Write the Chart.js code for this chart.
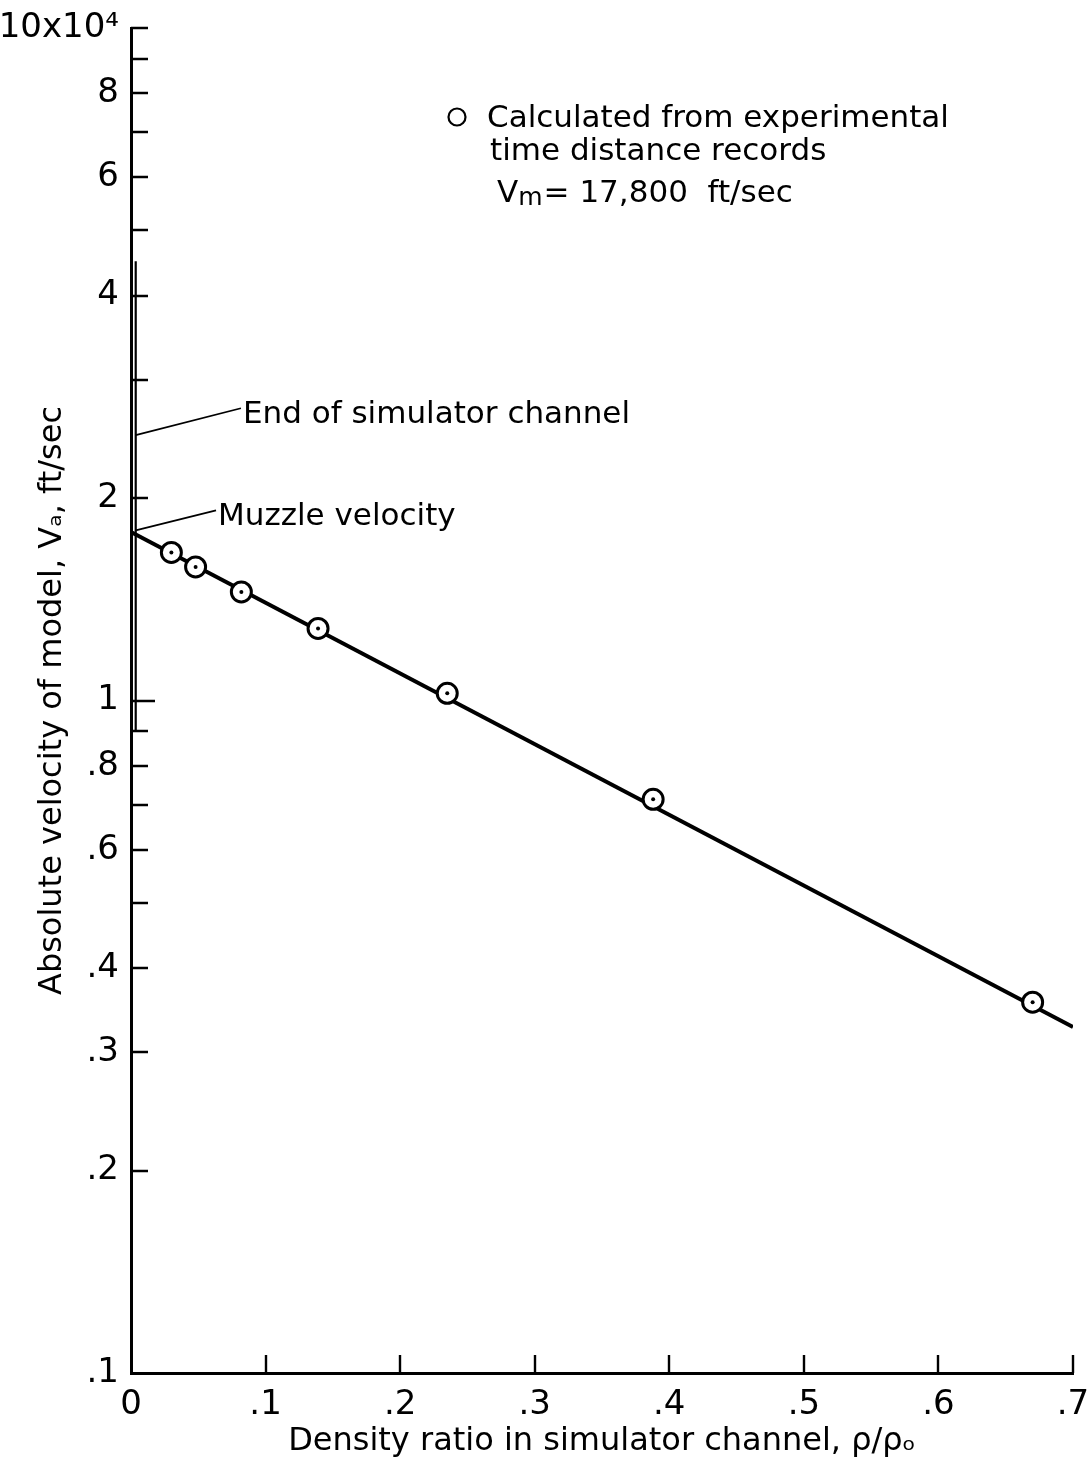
<!DOCTYPE html>
<html>
<head>
<meta charset="utf-8">
<script src="https://cdn.jsdelivr.net/npm/chart.js@4/dist/chart.umd.min.js"></script>
<style>
  html, body { margin: 0; padding: 0; background: #fff; }
  canvas { display: block; }
</style>
</head>
<body>
<canvas id="chart" width="1088" height="1467"></canvas>
<script>
// velocities are in units of 10^4 ft/sec
const rhoRatio = [0.030, 0.048, 0.082, 0.139, 0.235, 0.388, 0.670];
const velocity = [1.66, 1.58, 1.45, 1.28, 1.025, 0.713, 0.356];

// faired line, starting at the muzzle velocity Vm = 17,800 ft/sec
const fairedRatio = [0, 0.70];
const fairedVelocity = [1.78, 0.327];

// marker line at the end of the simulator channel
const channelRatio = [0.0035, 0.0035];
const channelVelocity = [4.5, 0.9];

const xTicks = [0, 0.1, 0.2, 0.3, 0.4, 0.5, 0.6, 0.7];
const xTickLabels = ['0', '.1', '.2', '.3', '.4', '.5', '.6', '.7'];
const yTicks = [0.1, 0.2, 0.3, 0.4, 0.5, 0.6, 0.7, 0.8, 0.9, 1, 2, 3, 4, 5, 6, 7, 8, 9, 10];
const yTickLabels = ['.1', '.2', '.3', '.4', '', '.6', '', '.8', '', '1', '2', '', '4', '', '6', '', '8', '', '10x10\u2074'];

const toPoints = (xs, ys) => xs.map((v, i) => ({ x: v, y: ys[i] }));

const FONT = 'DejaVu Sans';
Chart.defaults.font.family = FONT;
Chart.defaults.color = '#000';

// leader lines: from the marker to the label, in data units
const notes = [
  { text: 'End of simulator channel', from: [0.0035, 2.48], to: [0.0817, 2.72] },
  { text: 'Muzzle velocity', from: [0.0035, 1.79], to: [0.0632, 1.918] }
];

// tick marks drawn inside the plot, like the printed graph paper
const inwardTicks = {
  id: 'inwardTicks',
  beforeDatasetsDraw(chart) {
    const { ctx, chartArea, scales: { x, y } } = chart;
    ctx.save();
    ctx.strokeStyle = '#000';
    ctx.lineWidth = 2.4;
    ctx.beginPath();
    y.ticks.forEach((t) => {
      if (t.value === 0.1) return;
      const py = Math.round(y.getPixelForValue(t.value));
      const len = t.value === 1 ? 24 : 17;
      ctx.moveTo(chartArea.left, py);
      ctx.lineTo(chartArea.left + len, py);
    });
    x.ticks.forEach((t) => {
      if (t.value === 0) return;
      const px = Math.round(x.getPixelForValue(t.value));
      ctx.moveTo(px, chartArea.bottom);
      ctx.lineTo(px, chartArea.bottom - 18);
    });
    ctx.stroke();
    ctx.restore();
  }
};

const annotations = {
  id: 'annotations',
  afterDatasetsDraw(chart) {
    const { ctx, chartArea, scales: { x, y } } = chart;
    ctx.save();
    ctx.strokeStyle = '#000';
    ctx.fillStyle = '#000';
    ctx.lineWidth = 1.8;
    ctx.font = `31px "${FONT}"`;
    ctx.textBaseline = 'alphabetic';

    notes.forEach((n) => {
      const x0 = x.getPixelForValue(n.from[0]);
      const y0 = y.getPixelForValue(n.from[1]);
      const x1 = x.getPixelForValue(n.to[0]);
      const y1 = y.getPixelForValue(n.to[1]);
      ctx.beginPath();
      ctx.moveTo(x0, y0);
      ctx.lineTo(x1, y1);
      ctx.stroke();
      ctx.fillText(n.text, x1 + 2, y1 + 15);
    });

    // key
    const kx = chartArea.left + 326;
    const ky = chartArea.top + 89;
    ctx.lineWidth = 2.2;
    ctx.beginPath();
    ctx.arc(kx, ky, 8.5, 0, Math.PI * 2);
    ctx.stroke();
    ctx.fillText('Calculated from experimental', kx + 30, ky + 10);
    ctx.fillText('time distance records', kx + 33, ky + 43);
    const vx = kx + 40;
    const vy = ky + 85;
    ctx.fillText('V', vx, vy);
    let w = ctx.measureText('V').width;
    ctx.font = `25px "${FONT}"`;
    ctx.fillText('m', vx + w, vy + 3);
    w += ctx.measureText('m').width;
    ctx.font = `31px "${FONT}"`;
    ctx.fillText('= 17,800  ft/sec', vx + w + 1, vy);
    ctx.restore();
  }
};

new Chart(document.getElementById('chart'), {
  type: 'scatter',
  data: {
    datasets: [
      {
        data: toPoints(rhoRatio, velocity),
        pointRadius: 2,
        pointBackgroundColor: '#000',
        pointBorderWidth: 0,
        order: 0
      },
      {
        data: toPoints(rhoRatio, velocity),
        pointRadius: 10,
        pointBackgroundColor: '#fff',
        pointBorderColor: '#000',
        pointBorderWidth: 3,
        order: 1
      },
      {
        data: toPoints(fairedRatio, fairedVelocity),
        showLine: true,
        borderColor: '#000',
        borderWidth: 4,
        pointRadius: 0,
        order: 2
      },
      {
        data: toPoints(channelRatio, channelVelocity),
        showLine: true,
        borderColor: '#000',
        borderWidth: 2.2,
        pointRadius: 0,
        order: 3
      }
    ]
  },
  options: {
    responsive: false,
    animation: false,
    devicePixelRatio: 1,
    layout: { padding: { top: 28, right: 15, left: 0, bottom: 0 } },
    plugins: {
      legend: { display: false },
      tooltip: { enabled: false }
    },
    scales: {
      x: {
        type: 'linear',
        min: 0,
        max: 0.7,
        grid: { display: false },
        border: { display: true, color: '#000', width: 3 },
        afterBuildTicks: (scale) => { scale.ticks = xTicks.map((v) => ({ value: v })); },
        afterFit: (scale) => {
          scale.height = 94;
          scale.paddingLeft = 0;
          scale.paddingRight = 0;
        },
        ticks: {
          autoSkip: false,
          maxRotation: 0,
          padding: 4,
          font: { size: 34 },
          callback: (v, i) => xTickLabels[i]
        },
        title: {
          display: true,
          text: 'Density ratio in simulator channel, \u03c1/\u03c1\u2092',
          font: { size: 32 },
          padding: { top: 0, bottom: 6 }
        }
      },
      y: {
        type: 'logarithmic',
        min: 0.1,
        max: 10,
        grid: { display: false },
        border: { display: true, color: '#000', width: 3 },
        afterBuildTicks: (scale) => { scale.ticks = yTicks.map((v) => ({ value: v })); },
        afterFit: (scale) => {
          scale.width = 131;
          scale.paddingTop = 0;
          scale.paddingBottom = 0;
        },
        ticks: {
          autoSkip: false,
          padding: 4,
          font: { size: 34 },
          callback: (v, i) => yTickLabels[i]
        },
        title: {
          display: true,
          text: 'Absolute velocity of model, V\u2090, ft/sec',
          font: { size: 32 },
          padding: { top: 33, bottom: 0 }
        }
      }
    }
  },
  plugins: [inwardTicks, annotations]
});
</script>
</body>
</html>
